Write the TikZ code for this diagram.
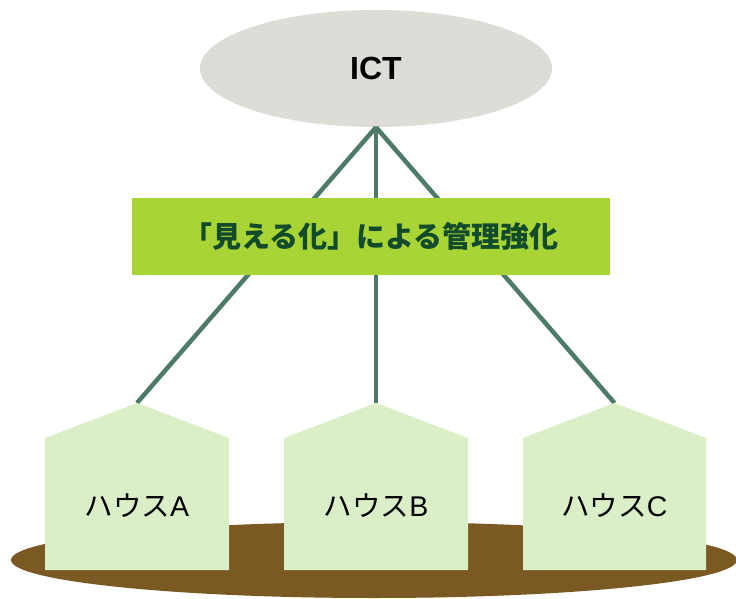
\documentclass[tikz,border=0pt]{standalone}
\usepackage{fontspec}
\setmainfont{Liberation Sans}
\newfontfamily\cjk{Noto Sans CJK JP}
\usetikzlibrary{shapes.geometric}
\definecolor{ictgray}{HTML}{DDDCD7}
\definecolor{linkgreen}{HTML}{4E7A68}
\definecolor{bannergreen}{HTML}{A8D436}
\definecolor{bannertext}{HTML}{124A2C}
\definecolor{housefill}{HTML}{DAEEC8}
\definecolor{soil}{HTML}{7A5923}
\begin{document}
\begin{tikzpicture}[x=1pt,y=-1pt,
  link/.style={draw=linkgreen,line width=4.5pt},
  housebody/.style={fill=housefill},
  houselabel/.style={font=\fontsize{28.5}{30}\selectfont,text=black,inner sep=0pt},
]
\useasboundingbox (0,0) rectangle (736,599);
% ground
\fill[soil] (374,560) ellipse [x radius=363, y radius=38];
% ICT ellipse
\node[ellipse,fill=ictgray,minimum width=352pt,minimum height=117pt,inner sep=0pt,
  font=\bfseries\fontsize{32}{34}\selectfont] (ict) at (376,68.5) {ICT};
% house peaks
\coordinate (pA) at (137,403);
\coordinate (pB) at (376,403);
\coordinate (pC) at (614.5,403);
% connectors
\draw[link] (ict.south) -- (pA);
\draw[link] (ict.south) -- (pB);
\draw[link] (ict.south) -- (pC);
% banner
\node[fill=bannergreen,minimum width=478pt,minimum height=77pt,inner sep=0pt,
  text=bannertext,font=\cjk\bfseries\fontsize{29}{31}\selectfont] (banner) at (371,236.5)
  {「見える化」による管理強化};
% houses
\fill[housebody] (45,570) -- (45,438) -- (pA) -- (229,438) -- (229,570) -- cycle;
\fill[housebody] (284,570) -- (284,438) -- (pB) -- (468,438) -- (468,570) -- cycle;
\fill[housebody] (523,570) -- (523,438) -- (pC) -- (706,438) -- (706,570) -- cycle;
\node[houselabel] (hA) at (137,506) {{\cjk ハウス}A};
\node[houselabel] (hB) at (376,506) {{\cjk ハウス}B};
\node[houselabel] (hC) at (614.5,506) {{\cjk ハウス}C};
\end{tikzpicture}
\end{document}
